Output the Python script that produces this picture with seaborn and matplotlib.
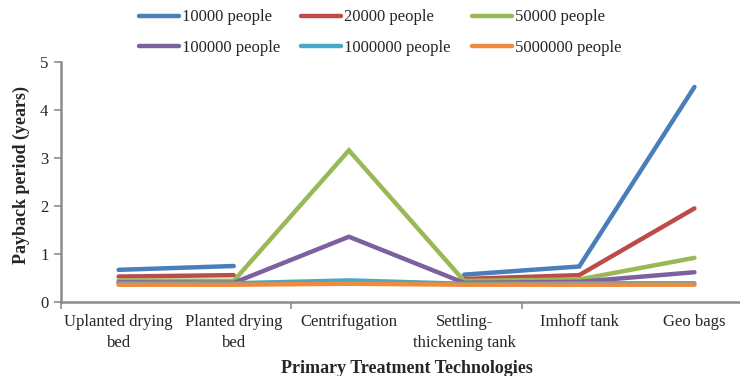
import numpy as np
import pandas as pd
import matplotlib
matplotlib.use("Agg")
import matplotlib.pyplot as plt
import seaborn as sns

categories = ["Uplanted drying\nbed", "Planted drying\nbed", "Centrifugation",
              "Settling-\nthickening tank", "Imhoff tank", "Geo bags"]
series_names = ["10000 people", "20000 people", "50000 people",
                "100000 people", "1000000 people", "5000000 people"]
p10k = [0.67, 0.75, np.nan, 0.57, 0.74, 4.48]
p20k = [0.53, 0.56, np.nan, 0.48, 0.56, 1.95]
p50k = [0.45, 0.44, 3.16, 0.44, 0.47, 0.92]
p100k = [0.41, 0.40, 1.36, 0.40, 0.42, 0.62]
p1m = [0.39, 0.39, 0.45, 0.38, 0.39, 0.39]
p5m = [0.36, 0.36, 0.38, 0.36, 0.36, 0.36]
yticks = [0, 1, 2, 3, 4, 5]

colors = ["#4A7EBB", "#BE4B48", "#98B954", "#7D60A0", "#46AAC5", "#F08A3C"]

sns.set_theme(style="white")
plt.rcParams["font.family"] = ["Liberation Serif", "DejaVu Serif"]

fig = plt.figure(figsize=(7.4, 3.76), dpi=100)
ax = fig.add_axes([61 / 740, 74 / 376, 691 / 740, 240 / 376])

all_series = [p10k, p20k, p50k, p100k, p1m, p5m]
for name, vals, col in zip(series_names, all_series, colors):
    df = pd.DataFrame({"x": np.arange(len(categories)), "y": vals})
    # break the line wherever a value is missing
    seg_id = df["y"].isna().cumsum()
    first = True
    for _, seg in df[df["y"].notna()].groupby(seg_id[df["y"].notna()]):
        sns.lineplot(data=seg, x="x", y="y", ax=ax, color=col, linewidth=3.2,
                     label=name if first else None, legend=False,
                     solid_capstyle="round", solid_joinstyle="miter")
        first = False

ax.set_xlim(-0.5, 5.5)
ax.set_ylim(0, 5)
ax.set_yticks(yticks)
ax.set_yticklabels([str(t) for t in yticks], fontsize=12)
ax.set_xticks(range(len(categories)))
ax.set_xticklabels(categories, fontsize=12, linespacing=1.35)
ax.tick_params(axis="x", which="major", length=0, pad=9)
ax.set_xticks([-0.5, 1.5, 3.5, 5.5], minor=True)
ax.tick_params(axis="x", which="minor", length=5, width=1.2, color="#8c8c8c",
               direction="out", bottom=True)
ax.tick_params(axis="y", length=5, width=1.2, color="#8c8c8c", direction="out",
               left=True, pad=4)

for side in ["top", "right"]:
    ax.spines[side].set_visible(False)
for side in ["left", "bottom"]:
    ax.spines[side].set_color("#8c8c8c")
    ax.spines[side].set_linewidth(1.8)

ax.set_xlabel("Primary Treatment Technologies", fontsize=13, fontweight="bold",
              labelpad=7)
ax.set_ylabel("Payback period (years)", fontsize=13, fontweight="bold")
ax.yaxis.set_label_coords(-0.045, 0.53)

# legend laid out row by row: three entries per row
handles, labels = ax.get_legend_handles_labels()
order = [0, 3, 1, 4, 2, 5]
fig.legend([handles[i] for i in order], [labels[i] for i in order],
           loc="upper left", bbox_to_anchor=(124 / 740, 1.015),
           ncol=3, frameon=False, fontsize=12, handlelength=2.4,
           handletextpad=0.15, columnspacing=1.3, labelspacing=0.85)

fig.savefig("out.png", dpi=100)
